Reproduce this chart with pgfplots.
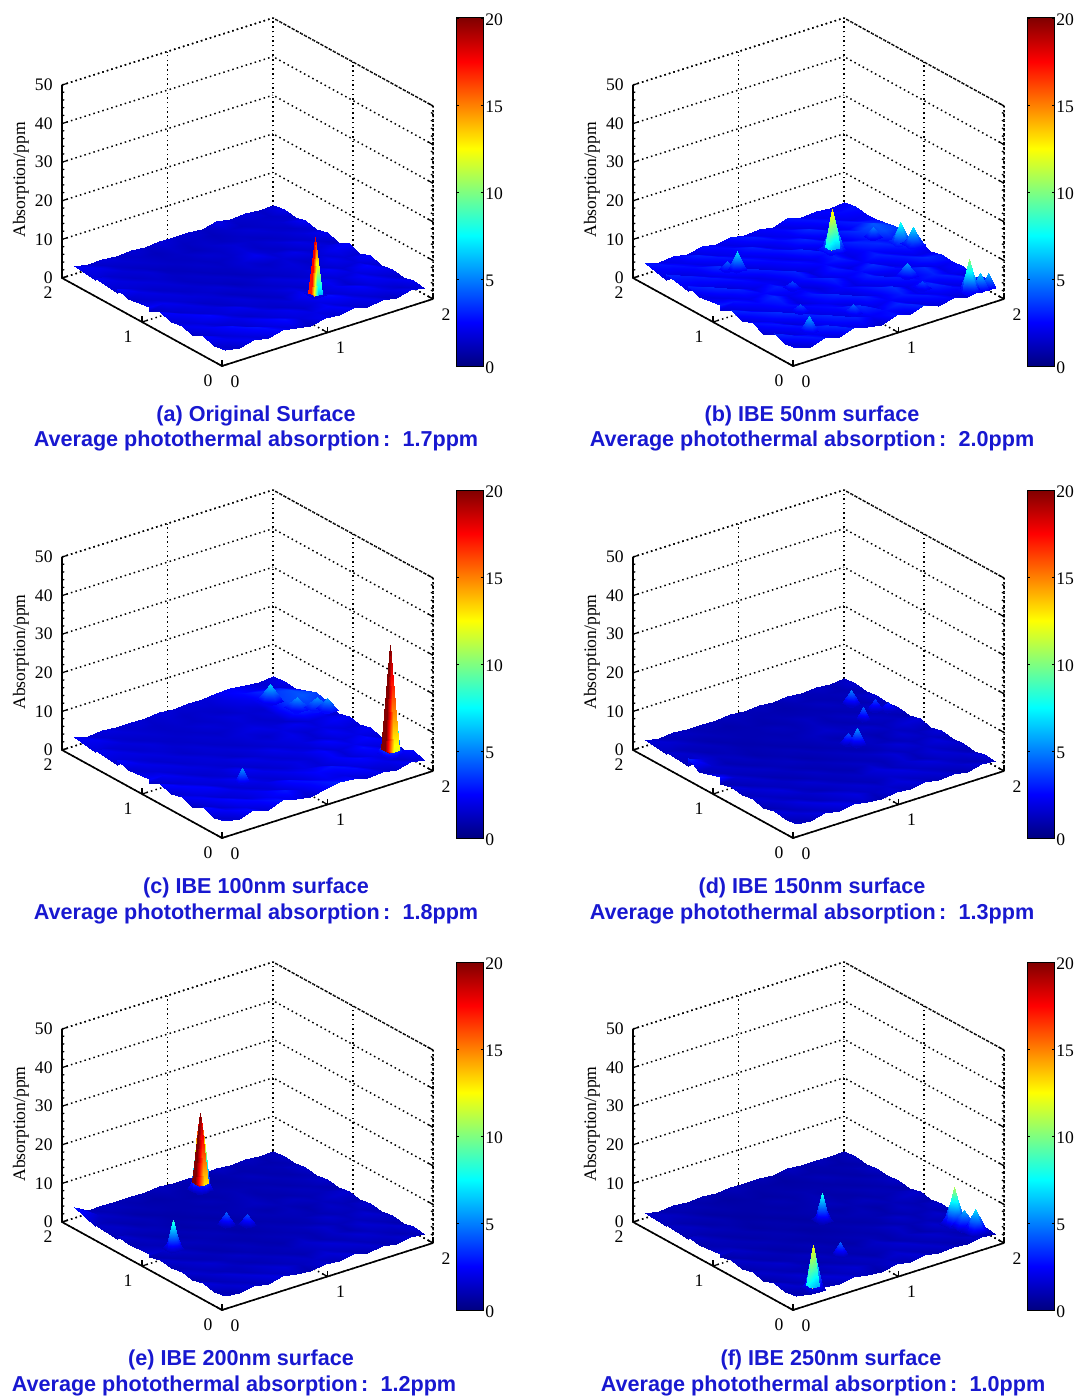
\documentclass[border=0pt]{standalone}
\usepackage{fontspec}
\usepackage{pgfplots}
\usepackage{pgfplotstable}
\pgfplotsset{compat=1.18}
\setmainfont{Liberation Serif}
\newfontfamily\capfont{Liberation Sans}
\definecolor{capblue}{RGB}{24,24,208}
\newcommand\tf{\fontsize{8.8}{10}\selectfont}
\newcommand\pk[5]{\addplot3[surf,shader=interp,forget plot,mesh/cols=#4,point meta=\thisrowno{0}]
  table[row sep=\\,header=false,x expr={#1+#3*mod(\coordindex,#4)},y expr={#2+#3*floor(\coordindex/#4)},z expr={\thisrowno{0}+1}]{#5};}
% 3x3 patch: x0 y0 step rim apex
\newcommand\pa[5]{\pk{#1}{#2}{#3}{3}{#4\\#4\\#4\\#4\\#5\\#4\\#4\\#4\\#4\\}}
% 5x5 patch: x0 y0 step rim ringcorner ringedge apex
\newcommand\pb[7]{\pk{#1}{#2}{#3}{5}{#4\\#4\\#4\\#4\\#4\\#4\\#5\\#6\\#5\\#4\\#4\\#6\\#7\\#6\\#4\\#4\\#5\\#6\\#5\\#4\\#4\\#4\\#4\\#4\\#4\\}}
% 3x3 spike face with own colours: x0 y0 step rimz apexz colourleft colourmiddle colourright colourapex
\newcommand\ps[9]{\addplot3[surf,shader=interp,forget plot,mesh/cols=3,point meta=\thisrowno{1}]
  table[row sep=\\,header=false,x expr={#1+#3*mod(\coordindex,3)},y expr={#2+#3*floor(\coordindex/3)},z expr={\thisrowno{0}+1}]{#4 #7\\#4 #8\\#4 #8\\#4 #6\\#5 #9\\#4 #8\\#4 #6\\#4 #6\\#4 #7\\};}
\newcommand\panel[4]{%
\begin{axis}[at={({(#1+222)*0.5pt},{-(#2+366)*0.5pt})},anchor=origin,
  x={(52.75pt,16.75pt)},y={(-40pt,22pt)},z={(0pt,1.93pt)},
  xmin=0,xmax=2,ymin=0,ymax=2,zmin=0,zmax=50,clip=false,
  xtick={0,1,2},ytick={0,1,2},ztick={0,10,20,30,40,50},
  colormap/jet,point meta min=0,point meta max=20,
  axis line style={draw=none},grid=major,
  grid style={black,line width=0.75pt,dash pattern=on 0.75pt off 1.6pt},
  tick style={black,line width=0.6pt},tick align=inside,major tick length=3pt,
  minor z tick num=4,minor tick length=1.2pt,
  tick pos=left,zticklabel pos=left,
  /pgf/number format/assume math mode=true,
  tick label style={font=\tf,inner sep=0pt},
  x tick label style={anchor=center,xshift=6.5pt,yshift=-7.75pt},
  y tick label style={anchor=center,xshift=-7pt,yshift=-7.5pt},
  z tick label style={anchor=east,xshift=-4.5pt},
]
\addplot3[black,line width=0.75pt,dash pattern=on 0.75pt off 1.6pt,forget plot] coordinates {(0,2,50)(2,2,50)(2,0,50)(2,0,0)};
\addplot3[black,line width=0.75pt,dash pattern=on 0.75pt off 1.6pt,forget plot] coordinates {(2,2,0)(2,2,50)};
\addplot3[black,line width=0.8pt,forget plot] coordinates {(0,2,50)(0,2,0)(0,0,0)(2,0,0)};
\pk{0.065}{0.05}{0.135}{15}{#3}
#4
\end{axis}
\begin{axis}[at={({(#1+456)*0.5pt},{-(#2+366)*0.5pt})},anchor=south west,scale only axis,width=13.75pt,height=174pt,
  xmin=0,xmax=1,ymin=0,ymax=20,xtick=\empty,ytick={0,5,10,15,20},yticklabel pos=right,
  colormap/jet,point meta min=0,point meta max=20,
  tick align=inside,ytick pos=both,major tick length=1.5pt,tick style={black,line width=0.4pt},axis line style={black,line width=0.5pt},
  /pgf/number format/assume math mode=true,tick label style={font=\tf,inner sep=0pt},
  y tick label style={xshift=0.7pt,yshift=-0.7pt},axis on top]
\addplot[surf,shader=interp,mesh/cols=2,point meta=y] coordinates {(0,0)(1,0)(0,20)(1,20)};
\end{axis}
\node[rotate=90,font=\tf] at ({(#1+21)*0.5pt},{-(#2+180)*0.5pt}) {Absorption/ppm};
}
\newcommand\capn[3]{\node[font=\capfont\bfseries\fontsize{10.8}{12}\selectfont,text=capblue,inner sep=0pt] at ({#1*0.5pt},{-(#2+2)*0.5pt}) {#3};}
\newcommand\capl[3]{\capn{#1}{#2}{Average photothermal absorption\hspace{0.15em}:\hspace{0.57em}#3}}
\begin{document}
\begin{tikzpicture}
\useasboundingbox (0,0) rectangle (539pt,-698pt);
% (a)
\panel{0}{0}{
2.0\\1.4\\2.3\\1.7\\2.6\\1.8\\1.3\\2.2\\1.6\\2.4\\1.5\\2.1\\1.3\\2.2\\1.7\\
1.6\\2.2\\1.8\\2.8\\1.9\\2.7\\1.8\\2.0\\2.4\\1.7\\2.2\\1.6\\2.0\\1.5\\2.3\\
2.5\\1.7\\2.7\\1.6\\2.4\\1.7\\2.2\\1.5\\2.0\\2.7\\1.7\\2.5\\1.8\\2.2\\1.4\\
1.4\\2.3\\1.6\\2.1\\1.5\\2.0\\1.4\\1.8\\2.5\\1.6\\2.2\\1.5\\2.4\\1.7\\2.1\\
2.2\\1.8\\2.6\\1.7\\2.2\\1.5\\1.7\\1.4\\2.0\\1.5\\2.3\\1.7\\1.9\\2.6\\1.5\\
1.7\\2.4\\1.6\\1.9\\1.4\\1.8\\1.3\\1.7\\1.5\\1.9\\1.6\\2.4\\1.6\\1.8\\2.6\\
2.5\\1.5\\2.0\\1.4\\1.7\\1.3\\1.6\\1.4\\1.8\\1.4\\1.7\\1.5\\2.2\\1.7\\1.6\\
1.3\\2.2\\1.6\\1.8\\1.5\\1.7\\1.2\\1.5\\1.3\\1.6\\1.8\\1.4\\1.7\\2.3\\2.5\\
2.4\\1.6\\1.9\\1.4\\1.6\\1.3\\1.5\\1.2\\1.6\\1.4\\1.7\\2.1\\1.5\\1.8\\1.4\\
1.5\\2.0\\1.4\\1.7\\1.3\\1.5\\1.2\\1.4\\1.7\\2.2\\1.6\\1.4\\2.0\\1.5\\2.3\\
2.5\\1.6\\1.8\\1.5\\1.4\\1.2\\1.5\\1.3\\1.5\\1.8\\1.4\\1.7\\1.4\\1.8\\1.6\\
1.4\\1.9\\1.4\\1.7\\1.2\\1.4\\1.3\\1.6\\1.4\\1.7\\1.5\\1.3\\1.6\\1.4\\2.4\\
2.2\\1.5\\1.7\\1.3\\1.5\\1.3\\1.4\\1.2\\1.5\\1.3\\1.4\\1.7\\1.4\\1.6\\1.5\\
1.6\\2.1\\1.4\\1.6\\1.4\\1.2\\1.5\\1.3\\1.4\\1.2\\1.5\\1.3\\1.5\\1.4\\2.1\\
2.3\\1.5\\1.8\\1.4\\1.7\\1.4\\1.8\\1.5\\1.7\\1.3\\2.1\\1.5\\1.9\\1.4\\1.7\\
}{\pb{1.169}{0.398}{0.03}{1.8}{2.2}{3.8}{16.5}\ps{1.189}{0.418}{0.04}{2}{16.5}{17}{14}{6}{18}}
\capn{256}{414}{(a) Original Surface}
\capl{256}{439}{1.7ppm}
% (b)
\panel{571}{0}{
2.6\\1.6\\2.9\\1.8\\3.1\\2.0\\1.5\\2.8\\1.9\\3.2\\1.7\\2.5\\1.6\\2.9\\2.2\\
1.9\\3.0\\2.2\\3.4\\2.1\\3.1\\2.3\\2.6\\3.3\\2.0\\2.9\\2.1\\2.7\\1.9\\3.1\\
3.3\\1.8\\2.8\\2.0\\3.3\\1.9\\3.5\\2.0\\2.4\\3.0\\2.1\\3.4\\2.0\\3.0\\1.7\\
1.6\\2.9\\1.8\\3.2\\2.0\\2.7\\1.9\\3.1\\2.2\\3.5\\2.0\\2.6\\3.1\\2.1\\2.8\\
2.8\\2.1\\3.4\\1.9\\2.6\\2.2\\3.3\\1.8\\2.9\\2.0\\3.0\\2.3\\3.4\\2.0\\2.4\\
1.8\\3.1\\2.0\\2.8\\1.8\\3.0\\2.1\\2.5\\1.9\\3.2\\1.9\\2.7\\2.1\\3.3\\2.9\\
3.2\\1.9\\2.6\\3.3\\2.1\\2.4\\1.8\\3.2\\2.2\\2.6\\3.4\\2.0\\3.0\\2.1\\2.0\\
1.7\\2.8\\2.1\\2.5\\3.1\\1.9\\2.8\\2.0\\3.0\\1.9\\2.4\\3.1\\2.2\\3.0\\3.2\\
3.0\\2.0\\3.1\\1.9\\2.4\\2.1\\3.2\\1.8\\2.5\\3.1\\2.0\\2.6\\3.3\\2.6\\2.0\\
1.9\\3.3\\1.8\\2.7\\2.0\\3.0\\1.9\\2.7\\2.1\\2.9\\2.2\\3.2\\2.8\\4.0\\3.5\\
3.1\\2.1\\2.9\\2.1\\3.2\\1.8\\2.6\\2.0\\3.3\\1.9\\2.8\\2.3\\3.4\\4.2\\3.2\\
1.8\\3.0\\2.0\\3.4\\1.9\\2.8\\2.1\\2.9\\2.0\\3.2\\2.1\\3.0\\2.4\\3.1\\2.6\\
3.2\\1.9\\2.7\\2.0\\2.9\\2.1\\3.1\\1.9\\2.7\\2.2\\3.3\\2.0\\2.9\\2.1\\2.3\\
1.7\\2.8\\2.1\\3.1\\2.0\\2.6\\2.0\\3.0\\2.1\\2.6\\2.0\\2.8\\2.2\\2.6\\2.8\\
2.9\\2.0\\2.5\\1.9\\2.7\\2.0\\2.8\\2.0\\2.5\\1.9\\2.9\\2.1\\2.5\\2.0\\2.4\\
}{\pa{1.698}{1.255}{0.05}{2.4}{5}\pb{1.285}{1.229}{0.04}{2.4}{3.5}{7}{13}\ps{1.325}{1.269}{0.04}{3}{13}{7}{11}{6}{13}\pb{1.768}{1.016}{0.035}{2.8}{3.8}{5.5}{8}\pb{1.83}{0.937}{0.035}{2.6}{3.6}{5}{7}\pa{1.477}{0.542}{0.06}{2.3}{5.5}\pa{0.476}{1.467}{0.045}{2.3}{4.5}\pa{0.531}{1.417}{0.05}{2.3}{7}\pa{0.665}{0.905}{0.05}{2.2}{4}\pa{1.446}{0.311}{0.05}{2.2}{4}\pa{1.855}{0.02}{0.04}{2.3}{6}\pa{1.774}{0.02}{0.05}{2.3}{6.5}\pb{1.676}{0.032}{0.035}{2.3}{3}{6.5}{10.5}\pa{0.462}{0.537}{0.05}{2.2}{4}\pa{0.759}{0.266}{0.05}{2.2}{4.5}\pa{0.297}{0.208}{0.05}{2.2}{6}}
\capn{812}{414}{(b) IBE 50nm surface}
\capl{812}{439}{2.0ppm}
% (c)
\panel{0}{472}{
2.3\\1.5\\2.7\\1.7\\2.9\\2.1\\1.4\\2.4\\3.1\\2.6\\1.6\\2.2\\1.5\\2.3\\1.8\\
1.5\\2.4\\1.9\\2.6\\2.2\\2.9\\2.0\\2.8\\2.2\\2.0\\2.7\\1.7\\2.1\\1.6\\2.6\\
2.7\\1.6\\2.6\\1.7\\2.3\\1.7\\2.7\\1.8\\2.5\\2.8\\1.9\\2.6\\2.0\\2.4\\1.5\\
1.3\\2.4\\1.6\\2.1\\1.6\\2.0\\1.6\\2.2\\2.0\\1.7\\2.4\\1.7\\2.7\\1.8\\2.3\\
2.3\\1.8\\2.5\\1.6\\2.3\\1.7\\2.1\\1.6\\2.0\\1.7\\2.5\\1.7\\2.1\\2.6\\1.6\\
1.6\\2.5\\1.7\\2.0\\1.6\\2.3\\1.5\\1.9\\1.6\\2.0\\1.7\\2.5\\1.8\\2.0\\2.4\\
2.6\\1.6\\2.1\\1.5\\1.8\\1.5\\2.0\\1.6\\2.1\\1.6\\1.9\\1.6\\2.3\\1.8\\1.7\\
1.4\\2.3\\1.6\\1.9\\1.6\\1.8\\1.4\\1.8\\1.5\\1.8\\2.1\\1.6\\1.9\\2.4\\2.3\\
2.5\\1.7\\2.0\\1.5\\1.8\\1.5\\1.7\\1.4\\1.7\\1.5\\1.9\\2.2\\1.7\\2.0\\1.5\\
1.6\\2.1\\1.5\\1.8\\1.4\\1.7\\1.4\\1.6\\1.8\\2.0\\1.7\\1.5\\3.4\\3.6\\3.2\\
2.6\\1.7\\1.9\\1.6\\1.6\\1.4\\1.6\\1.4\\1.6\\1.7\\1.5\\1.8\\3.8\\4.2\\3.8\\
1.5\\2.0\\1.5\\1.8\\1.4\\1.5\\1.4\\1.7\\1.5\\1.8\\1.6\\1.6\\3.6\\4.0\\3.0\\
2.3\\1.6\\1.8\\1.4\\1.6\\1.4\\1.5\\1.4\\1.6\\1.4\\1.8\\2.2\\3.4\\3.0\\1.8\\
1.7\\2.2\\1.5\\1.7\\1.5\\1.4\\1.6\\1.4\\1.5\\1.6\\2.0\\2.6\\2.2\\1.7\\2.2\\
2.4\\1.6\\1.9\\1.5\\1.8\\1.5\\1.9\\1.6\\1.8\\1.7\\2.3\\2.4\\2.0\\1.6\\1.8\\
}{\pa{1.584}{1.511}{0.07}{2.2}{6.5}\pa{1.648}{1.258}{0.07}{2.6}{5.5}\pa{1.768}{1.167}{0.07}{2.8}{5.5}\pa{1.827}{1.117}{0.06}{2.6}{5.5}\pa{0.572}{0.517}{0.04}{2}{5.4}\pb{1.737}{0.213}{0.035}{2}{5}{16}{30}\ps{1.757}{0.233}{0.05}{3}{30}{20}{19}{12}{20}}
\capn{256}{886}{(c) IBE 100nm surface}
\capl{256}{912}{1.8ppm}
% (d)
\panel{571}{472}{
1.6\\1.1\\1.9\\1.3\\2.1\\1.4\\1.0\\1.7\\1.2\\1.8\\1.1\\1.6\\1.0\\1.7\\1.3\\
1.2\\1.7\\1.3\\2.0\\1.4\\1.9\\1.3\\1.5\\1.8\\1.3\\1.7\\1.2\\1.5\\1.1\\1.8\\
1.9\\1.2\\1.9\\1.2\\1.7\\1.3\\1.6\\1.1\\1.5\\1.9\\1.3\\1.8\\1.3\\1.6\\1.0\\
1.0\\1.6\\1.2\\1.5\\1.1\\1.5\\1.1\\1.4\\1.8\\1.2\\1.6\\1.1\\1.7\\1.2\\1.5\\
1.7\\1.3\\1.8\\1.2\\1.6\\1.1\\1.3\\1.0\\1.4\\1.1\\1.7\\1.2\\1.4\\1.8\\1.1\\
1.2\\1.7\\1.2\\1.4\\1.0\\1.4\\1.0\\1.3\\1.1\\1.4\\1.2\\1.7\\1.2\\1.3\\1.8\\
1.8\\1.1\\1.5\\1.0\\1.3\\1.0\\1.2\\1.0\\1.3\\1.0\\1.3\\1.1\\1.6\\1.2\\1.1\\
1.0\\1.6\\1.1\\1.4\\1.1\\1.3\\0.9\\1.2\\1.0\\1.2\\1.4\\1.0\\1.3\\1.7\\1.8\\
2.8\\1.2\\1.4\\1.0\\1.2\\1.0\\1.2\\0.9\\1.2\\1.0\\1.3\\1.5\\1.1\\1.3\\1.0\\
1.2\\1.5\\1.0\\1.3\\0.9\\1.1\\0.9\\1.1\\1.3\\1.5\\1.2\\1.0\\1.4\\1.1\\1.6\\
3.2\\1.7\\1.3\\1.1\\1.0\\0.9\\1.1\\1.0\\1.1\\1.3\\1.0\\1.3\\1.0\\1.4\\1.2\\
1.1\\1.5\\1.0\\1.2\\0.9\\1.0\\1.0\\1.2\\1.0\\1.3\\1.1\\1.0\\1.2\\1.0\\1.7\\
1.6\\1.1\\1.3\\0.9\\1.1\\1.0\\1.0\\0.9\\1.1\\1.0\\1.0\\1.3\\1.0\\1.2\\1.1\\
1.2\\1.6\\1.1\\1.2\\1.0\\0.9\\1.1\\1.0\\1.0\\0.9\\1.1\\1.0\\1.1\\1.0\\1.6\\
1.7\\1.1\\1.4\\1.1\\1.3\\1.1\\1.4\\1.1\\1.3\\1.0\\1.5\\1.1\\1.4\\1.1\\1.3\\
}{\pa{1.664}{1.486}{0.05}{1.4}{5}\pa{1.832}{1.244}{0.05}{1.3}{3.2}\pa{1.759}{1.309}{0.045}{1.3}{3.8}\pa{1.582}{1.225}{0.04}{1.3}{4.5}\pa{1.22}{0.938}{0.05}{1.3}{4}\pa{1.263}{0.882}{0.05}{1.3}{5.5}}
\capn{812}{886}{(d) IBE 150nm surface}
\capl{812}{912}{1.3ppm}
% (e)
\panel{0}{944}{
1.5\\1.0\\1.7\\1.2\\1.9\\1.3\\0.9\\1.6\\1.1\\1.8\\1.0\\1.5\\1.0\\1.6\\1.2\\
1.1\\1.6\\1.2\\1.8\\1.3\\1.7\\1.2\\1.4\\1.7\\1.2\\1.6\\1.1\\1.4\\1.0\\1.7\\
1.8\\1.1\\1.7\\1.1\\1.5\\1.1\\1.4\\1.0\\1.3\\1.7\\1.1\\1.6\\1.2\\1.5\\0.9\\
0.9\\1.5\\1.1\\1.3\\1.0\\1.3\\1.0\\1.2\\1.5\\1.0\\1.4\\1.0\\1.6\\1.1\\1.4\\
1.6\\1.2\\1.6\\1.1\\1.4\\1.0\\1.1\\0.9\\1.2\\1.0\\1.5\\1.1\\1.2\\1.6\\1.0\\
1.0\\1.5\\1.0\\1.2\\0.9\\1.2\\0.9\\1.1\\1.0\\1.2\\1.0\\1.5\\1.1\\1.2\\1.6\\
1.6\\1.0\\1.3\\0.9\\1.1\\0.9\\1.0\\0.9\\1.1\\0.9\\1.1\\1.0\\1.4\\1.1\\1.0\\
0.9\\1.5\\1.0\\1.2\\1.0\\1.1\\0.8\\1.0\\0.9\\1.1\\1.2\\0.9\\1.2\\1.5\\1.6\\
1.7\\1.1\\1.2\\0.9\\1.1\\0.9\\1.0\\0.8\\1.1\\0.9\\1.1\\1.3\\1.0\\1.2\\0.9\\
1.0\\1.3\\0.9\\1.1\\0.8\\1.0\\0.8\\1.0\\1.1\\1.3\\1.0\\0.9\\1.2\\1.0\\1.5\\
1.6\\1.0\\1.2\\1.0\\0.9\\0.8\\1.0\\0.9\\1.0\\1.2\\0.9\\1.1\\0.9\\1.2\\1.1\\
1.0\\1.4\\0.9\\1.1\\0.8\\0.9\\0.9\\1.1\\0.9\\1.1\\1.0\\0.9\\1.1\\0.9\\1.5\\
1.4\\1.0\\1.2\\0.8\\1.0\\0.9\\0.9\\0.8\\1.0\\0.9\\0.9\\1.2\\0.9\\1.1\\1.0\\
1.2\\1.4\\1.0\\1.1\\0.9\\0.8\\1.0\\0.9\\0.9\\0.8\\1.0\\0.9\\1.0\\0.9\\1.4\\
3.0\\1.0\\1.3\\1.0\\1.2\\1.0\\1.3\\1.0\\1.2\\0.9\\1.4\\1.0\\1.3\\1.0\\1.2\\
}{\pb{1.022}{1.644}{0.035}{1.2}{4}{14}{21}\ps{1.047}{1.669}{0.045}{3}{21}{20}{18.5}{13}{20}\pa{0.942}{0.945}{0.05}{1.2}{4}\pa{0.815}{1.041}{0.05}{1.2}{4.5}\pb{0.225}{0.928}{0.03}{1.2}{2.5}{5}{8.5}}
\capn{241}{1358}{(e) IBE 200nm surface}
\capl{234}{1384}{1.2ppm}
% (f)
\panel{571}{944}{
1.4\\0.9\\1.6\\1.1\\1.7\\1.2\\0.8\\1.5\\1.0\\1.7\\0.9\\1.4\\0.9\\1.5\\1.1\\
1.0\\1.5\\1.1\\1.7\\1.2\\1.6\\1.1\\1.3\\1.6\\1.1\\1.5\\1.0\\1.3\\0.9\\1.6\\
1.7\\1.0\\1.6\\1.0\\1.4\\1.0\\1.3\\0.9\\1.2\\1.6\\1.0\\1.5\\1.1\\1.4\\0.8\\
0.8\\1.4\\1.0\\1.2\\0.9\\1.2\\0.9\\1.1\\1.4\\0.9\\1.3\\0.9\\1.5\\1.0\\1.3\\
1.5\\1.1\\1.5\\1.0\\1.3\\0.9\\1.0\\0.8\\1.1\\0.9\\1.4\\1.0\\1.1\\1.5\\0.9\\
0.9\\1.4\\0.9\\1.1\\0.8\\1.1\\0.8\\1.0\\0.9\\1.1\\0.9\\1.4\\1.0\\1.1\\1.5\\
1.5\\0.9\\1.2\\0.8\\1.0\\0.8\\0.9\\0.8\\1.0\\0.8\\1.0\\0.9\\1.3\\1.0\\0.9\\
0.8\\1.4\\0.9\\1.1\\0.9\\1.0\\0.7\\0.9\\0.8\\1.0\\1.1\\0.8\\1.1\\1.4\\1.5\\
1.6\\1.0\\1.1\\0.8\\1.0\\0.8\\0.9\\0.7\\1.0\\0.8\\1.0\\1.2\\0.9\\1.1\\0.8\\
0.9\\1.2\\0.8\\1.0\\0.7\\0.9\\0.7\\0.9\\1.0\\1.2\\0.9\\0.8\\1.1\\0.9\\1.4\\
1.5\\0.9\\1.1\\0.9\\0.8\\0.7\\0.9\\0.8\\0.9\\1.1\\0.8\\1.0\\0.8\\1.1\\1.0\\
0.9\\1.3\\0.8\\1.0\\0.7\\0.8\\0.8\\1.0\\0.8\\1.0\\0.9\\0.8\\1.0\\0.8\\1.4\\
1.3\\0.9\\1.1\\0.7\\0.9\\0.8\\0.8\\0.7\\0.9\\0.8\\0.8\\1.1\\0.8\\1.0\\0.9\\
1.1\\1.3\\0.9\\1.0\\0.8\\0.7\\0.9\\0.8\\0.8\\0.7\\0.9\\0.8\\0.9\\0.8\\1.3\\
1.4\\0.9\\1.2\\0.9\\1.1\\0.9\\1.2\\0.9\\1.1\\0.8\\1.3\\0.9\\1.2\\0.9\\1.1\\
}{\pb{1.01}{0.989}{0.03}{1.1}{2.2}{4}{8}\pb{1.729}{0.293}{0.04}{1.2}{3.5}{7}{11}\pa{1.76}{0.2}{0.07}{1.5}{6}\pb{1.779}{0.096}{0.04}{1.2}{3}{5}{7}\pa{0.751}{0.417}{0.045}{1.1}{4.5}\pb{0.192}{0.026}{0.035}{1.1}{2.8}{7}{12.5}\ps{0.227}{0.061}{0.035}{2}{12.5}{7}{12}{6}{12.5}}
\capn{831}{1358}{(f) IBE 250nm surface}
\capl{823}{1384}{1.0ppm}
\end{tikzpicture}
\end{document}
